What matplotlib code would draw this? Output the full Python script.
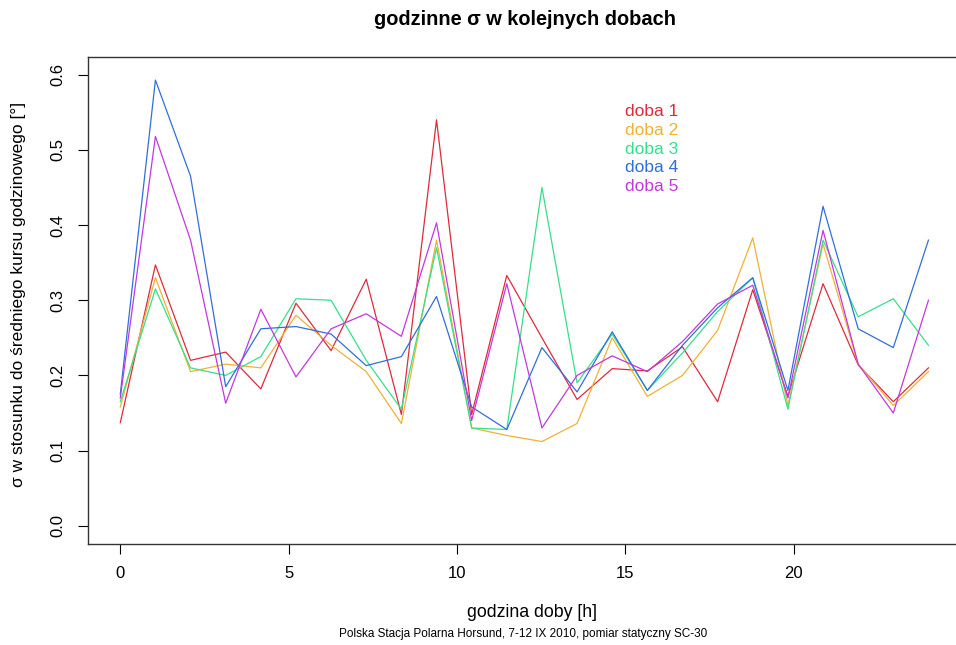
import numpy as np
import matplotlib
matplotlib.use("Agg")
import matplotlib.pyplot as plt

plt.rcParams['font.family'] = ['Liberation Sans', 'DejaVu Sans']

# godziny pomiarow (24 punkty w ciagu doby)
hours = np.linspace(0, 24, 24)

doba1 = [0.137, 0.347, 0.220, 0.231, 0.182, 0.296, 0.233, 0.328, 0.148, 0.540, 0.148, 0.333,
         0.250, 0.168, 0.209, 0.206, 0.238, 0.165, 0.314, 0.172, 0.322, 0.214, 0.165, 0.210]
doba2 = [0.158, 0.330, 0.205, 0.215, 0.210, 0.280, 0.240, 0.205, 0.136, 0.380, 0.130, 0.120,
         0.112, 0.136, 0.250, 0.172, 0.200, 0.260, 0.383, 0.160, 0.375, 0.215, 0.160, 0.205]
doba3 = [0.165, 0.315, 0.210, 0.200, 0.225, 0.302, 0.300, 0.220, 0.155, 0.370, 0.130, 0.128,
         0.450, 0.190, 0.255, 0.180, 0.230, 0.285, 0.330, 0.155, 0.380, 0.278, 0.302, 0.240]
doba4 = [0.175, 0.593, 0.465, 0.185, 0.262, 0.265, 0.255, 0.213, 0.225, 0.305, 0.158, 0.128,
         0.237, 0.178, 0.258, 0.180, 0.240, 0.290, 0.330, 0.180, 0.425, 0.262, 0.237, 0.380]
doba5 = [0.170, 0.518, 0.380, 0.163, 0.288, 0.198, 0.262, 0.282, 0.252, 0.403, 0.140, 0.322,
         0.130, 0.200, 0.226, 0.205, 0.245, 0.295, 0.320, 0.170, 0.393, 0.215, 0.150, 0.300]

series = [doba1, doba2, doba3, doba4, doba5]
labels = ['doba 1', 'doba 2', 'doba 3', 'doba 4', 'doba 5']
colors = ['#e02a3c', '#f2b035', '#35e08c', '#2f6fdc', '#c238e0']

fig = plt.figure(figsize=(9.56, 6.45), dpi=100)
ax = fig.add_axes([0.092, 0.157, 0.913, 0.755])

for vals, lab, col in zip(series, labels, colors):
    ax.plot(hours, vals, color=col, lw=0.9, label=lab)

ax.set_xlim(-0.96, 24.96)
ax.set_ylim(-0.024, 0.624)
ax.set_xticks([0, 5, 10, 15, 20])
ax.set_yticks([0.0, 0.1, 0.2, 0.3, 0.4, 0.5, 0.6])
ax.set_yticklabels(['0.0', '0.1', '0.2', '0.3', '0.4', '0.5', '0.6'], rotation=90, va='center')
ax.tick_params(direction='out', length=7, width=0.8, labelsize=12, pad=9)
for s in ax.spines.values():
    s.set_linewidth(1.0)
    s.set_color('#333333')

# legenda: sam kolorowy tekst
for k, (lab, col) in enumerate(zip(labels, colors)):
    ax.text(15.0, 0.551 - k * 0.0249, lab, color=col, fontsize=12.5, va='center', ha='left')

fig.text(0.549, 0.969, 'godzinne σ w kolejnych dobach', ha='center', va='center',
         fontsize=14.4, fontweight='bold')
fig.text(0.556, 0.051, 'godzina doby [h]', ha='center', va='center', fontsize=12.8)
fig.text(0.547, 0.017, 'Polska Stacja Polarna Horsund, 7-12 IX 2010, pomiar statyczny SC-30',
         ha='center', va='center', fontsize=8.5)
fig.text(0.019, 0.543, 'σ w stosunku do średniego kursu godzinowego [°]', rotation=90,
         ha='center', va='center', fontsize=12.5)

fig.savefig('out.png', dpi=100)
